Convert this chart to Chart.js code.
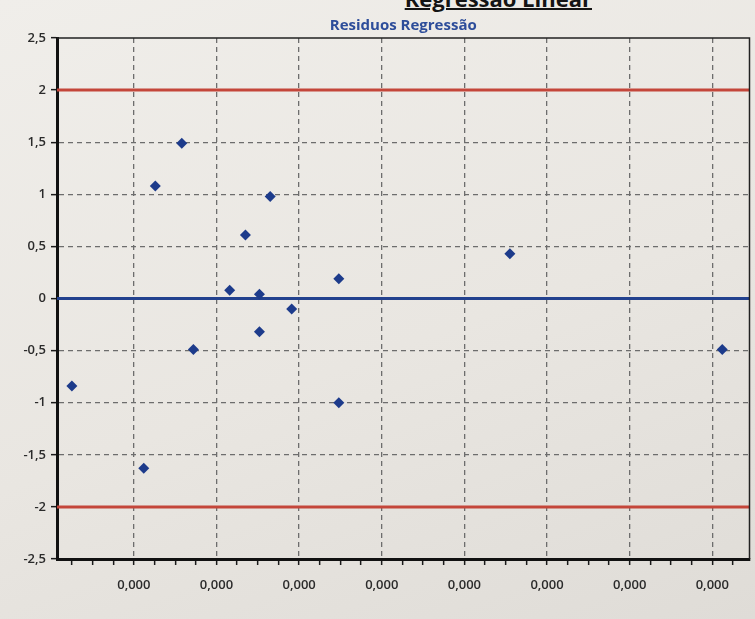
<!DOCTYPE html>
<html>
<head>
<meta charset="utf-8">
<script src="https://cdn.jsdelivr.net/npm/chart.js@4/dist/chart.umd.min.js"></script>
<style>
  html, body { margin: 0; padding: 0; width: 755px; height: 619px; overflow: hidden; }
  body {
    position: relative;
    background: linear-gradient(160deg, #f0eeea 0%, #e9e6e1 55%, #dfdcd7 100%);
    font-family: 'Open Sans', sans-serif;
  }
  #heading {
    position: absolute; right: 163px; top: -17px;
    font: bold 22px 'Open Sans', sans-serif; color: #141414;
    text-decoration: underline; text-decoration-thickness: 2px;
    white-space: nowrap;
  }
  #wrap { position: absolute; left: 0; top: 0; width: 755px; height: 619px; }
</style>
</head>
<body>
<div id="heading">Regressão Linear</div>
<div id="wrap"><canvas id="chart"></canvas></div>
<script>
// Residuals of the linear regression (x = predictor, y = standardized residual)
const residualX = [1.25e-5, 5.6e-5, 6.3e-5, 7.9e-5, 8.6e-5, 10.8e-5, 11.75e-5, 12.6e-5,
                   12.6e-5, 13.25e-5, 14.55e-5, 17.4e-5, 17.4e-5, 27.75e-5, 40.6e-5];
const residualY = [-0.84, -1.63, 1.08, 1.49, -0.49, 0.08, 0.61, 0.04,
                   -0.32, 0.98, -0.1, 0.19, -1.0, 0.43, -0.49];

// Reference levels: upper bound, zero, lower bound
const limitLevels = [2, 0, -2];
const limitColors = ['#c4463a', '#22418e', '#c4463a'];

// Axis ranges and ticks
const xMin = 0.35e-5;
const xMax = 42.25e-5;
const xMajorTicks = [5e-5, 10e-5, 15e-5, 20e-5, 25e-5, 30e-5, 35e-5, 40e-5];
const xMinorPerMajor = 4;
const yMin = -2.5;
const yMax = 2.5;
const yTicks = [-2.5, -2, -1.5, -1, -0.5, 0, 0.5, 1, 1.5, 2, 2.5];

const comma = s => s.replace('.', ',');

// major ticks plus the small unlabeled marks between them
function buildXTicks() {
  const step = xMajorTicks[1] - xMajorTicks[0];
  const sub = step / xMinorPerMajor;
  const out = [];
  for (let v = xMajorTicks[0] - step; v <= xMax + 1e-12; v += sub) {
    if (v < xMin - 1e-12) continue;
    const isMajor = xMajorTicks.some(m => Math.abs(m - v) < sub / 10);
    out.push({ value: v, major: isMajor });
  }
  return out;
}

const points = residualX.map((x, i) => ({ x, y: residualY[i] }));

const limitSets = limitLevels.map((lvl, i) => ({
  type: 'line',
  label: 'nivel ' + lvl,
  data: [{ x: xMin, y: lvl }, { x: xMax, y: lvl }],
  borderColor: limitColors[i],
  borderWidth: 3,
  pointRadius: 0,
  order: 2
}));

const frame = {
  id: 'frame',
  afterDraw(chart) {
    const { ctx, chartArea: a } = chart;
    ctx.save();
    ctx.strokeStyle = '#222';
    ctx.lineWidth = 1.5;
    ctx.beginPath();
    ctx.moveTo(a.left, a.top);
    ctx.lineTo(a.right, a.top);
    ctx.lineTo(a.right, a.bottom);
    ctx.stroke();
    ctx.restore();
  }
};

new Chart(document.getElementById('chart'), {
  type: 'scatter',
  data: {
    datasets: [
      {
        label: 'Residuos',
        data: points,
        pointStyle: 'rectRot',
        pointRadius: 5.5,
        pointHoverRadius: 5.5,
        backgroundColor: '#1d3b8b',
        borderWidth: 0,
        order: 0
      },
      ...limitSets
    ]
  },
  options: {
    responsive: true,
    maintainAspectRatio: false,
    animation: false,
    layout: { padding: { left: 0, right: 3, top: 0, bottom: 0 } },
    plugins: {
      legend: { display: false },
      tooltip: { enabled: false },
      title: {
        display: true,
        fullSize: false,
        text: 'Residuos Regressão',
        color: '#2d4d9a',
        font: { family: 'Open Sans', size: 15, weight: 'bold' },
        padding: { top: 17, bottom: 3 }
      }
    },
    scales: {
      x: {
        type: 'linear',
        min: xMin,
        max: xMax,
        afterBuildTicks: s => { s.ticks = buildXTicks(); },
        afterFit: s => { s.height = 60; },
        ticks: {
          autoSkip: false,
          maxRotation: 0,
          padding: 12,
          color: '#2b2b2b',
          font: { family: 'Open Sans', size: 13, weight: '600' },
          callback: function (v, i, ticks) {
            return ticks[i].major ? comma(v.toFixed(3)) : '';
          }
        },
        grid: {
          color: c => (c.tick && c.tick.major) ? '#6d6d6d' : 'rgba(0,0,0,0)',
          lineWidth: 1.3,
          tickColor: '#1a1a1a',
          tickLength: 6,
          tickWidth: 1.5
        },
        border: { color: '#111', width: 3, dash: [5, 4] }
      },
      y: {
        min: yMin,
        max: yMax,
        afterBuildTicks: s => { s.ticks = yTicks.map(v => ({ value: v })); },
        afterFit: s => { s.width = 57; },
        ticks: {
          padding: 5,
          color: '#2b2b2b',
          font: { family: 'Open Sans', size: 13, weight: '600' },
          callback: v => comma(String(v))
        },
        grid: {
          color: c => (c.tick && Math.abs(c.tick.value) === 2.5) ? 'rgba(0,0,0,0)' : '#6d6d6d',
          lineWidth: 1.3,
          tickColor: '#1a1a1a',
          tickLength: 6,
          tickWidth: 1.5
        },
        border: { color: '#111', width: 3, dash: [5, 4] }
      }
    }
  },
  plugins: [frame]
});
</script>
</body>
</html>
